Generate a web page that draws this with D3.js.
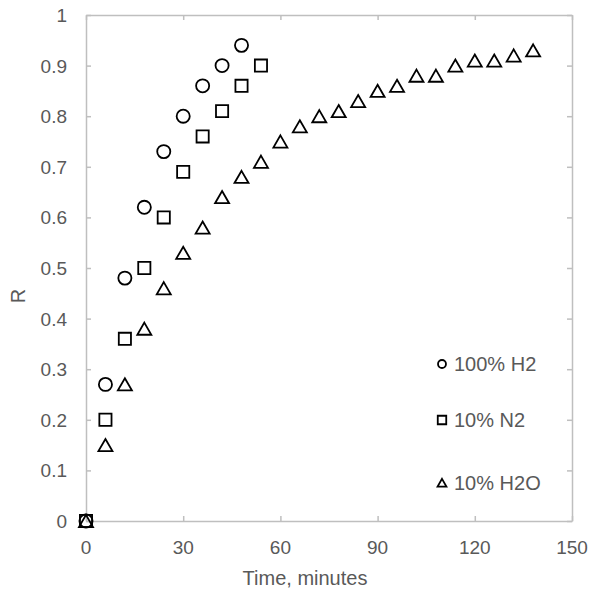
<!DOCTYPE html>
<meta charset="utf-8"/>
<title>R vs time</title>
<script src="https://cdn.jsdelivr.net/npm/d3@7"></script>
<style>
  body { margin: 0; background: #fff; }
  text { font-family: 'Liberation Sans', Arial, sans-serif; fill: #595959; }
</style>
<svg width=593 height=590></svg>
<script>
  // data
  const timeH2 = [0, 6, 12, 18, 24, 30, 36, 42, 48];
  const rH2 = [0, 0.27, 0.48, 0.62, 0.73, 0.80, 0.86, 0.90, 0.94];
  const timeN2 = [0, 6, 12, 18, 24, 30, 36, 42, 48, 54];
  const rN2 = [0, 0.20, 0.36, 0.50, 0.60, 0.69, 0.76, 0.81, 0.86, 0.90];
  const timeH2O = [0, 6, 12, 18, 24, 30, 36, 42, 48, 54, 60, 66, 72, 78, 84, 90, 96, 102, 108, 114, 120, 126, 132, 138];
  const rH2O = [0, 0.15, 0.27, 0.38, 0.46, 0.53, 0.58, 0.64, 0.68, 0.71, 0.75, 0.78, 0.80, 0.81, 0.83, 0.85, 0.86, 0.88, 0.88, 0.90, 0.91, 0.91, 0.92, 0.93];
  const seriesNames = ['100% H2', '10% N2', '10% H2O'];
  const xTicks = [0, 30, 60, 90, 120, 150];
  const yTicks = [0, 0.1, 0.2, 0.3, 0.4, 0.5, 0.6, 0.7, 0.8, 0.9, 1];

  const pLeft = 86, pRight = 572, pTop = 15, pBottom = 521;
  const x = d3.scaleLinear().domain([0, 150]).range([pLeft, pRight]);
  const y = d3.scaleLinear().domain([0, 1]).range([pBottom, pTop]);
  const svg = d3.select('svg');
  const grey = '#bfbfbf';

  // frame with inward ticks on all four sides
  const axes = [
    [d3.axisBottom(x).tickValues(xTicks).tickSizeInner(-5).tickSizeOuter(0).tickFormat(''), 'translate(0,' + pBottom + ')'],
    [d3.axisTop(x).tickValues(xTicks).tickSizeInner(-5).tickSizeOuter(0).tickFormat(''), 'translate(0,' + pTop + ')'],
    [d3.axisLeft(y).tickValues(yTicks).tickSizeInner(-5).tickSizeOuter(0).tickFormat(''), 'translate(' + pLeft + ',0)'],
    [d3.axisRight(y).tickValues(yTicks).tickSizeInner(-5).tickSizeOuter(0).tickFormat(''), 'translate(' + pRight + ',0)']
  ];
  axes.forEach(function (a) {
    const g = svg.append('g').attr('transform', a[1]).call(a[0]);
    g.selectAll('path, line').style('stroke', grey).style('stroke-width', 1.5);
  });

  // tick labels
  svg.append('g').selectAll('text').data(xTicks).enter().append('text')
    .attr('x', d => x(d)).attr('y', pBottom + 33)
    .attr('text-anchor', 'middle').style('font-size', '19px')
    .text(d => d);
  svg.append('g').selectAll('text').data(yTicks).enter().append('text')
    .attr('x', pLeft - 19).attr('y', d => y(d) + 7)
    .attr('text-anchor', 'end').style('font-size', '19px')
    .text(d => d);

  svg.append('text').attr('x', 305).attr('y', 585)
    .attr('text-anchor', 'middle').style('font-size', '20px').text('Time, minutes');
  svg.append('text').attr('transform', 'translate(25,296)rotate(-90)')
    .attr('text-anchor', 'middle').style('font-size', '20px').text('R');

  const shapes = [d3.symbolCircle, d3.symbolSquare, d3.symbolTriangle];
  const sizes = [135, 148, 85];
  const legSizes = [50, 72, 34];
  const sets = [[timeH2, rH2], [timeN2, rN2], [timeH2O, rH2O]];

  sets.forEach(function (s, k) {
    const sym = d3.symbol().type(shapes[k]).size(sizes[k]);
    svg.append('g').selectAll('path').data(s[0]).enter().append('path')
      .attr('d', sym)
      .attr('transform', (d, i) => 'translate(' + x(d) + ',' + (y(s[1][i]) + (k === 2 ? 2 : 0)) + ')')
      .style('fill', 'none').style('stroke', '#000').style('stroke-width', 1.8);
  });

  // legend
  const legY = [364, 420, 483];
  seriesNames.forEach(function (name, k) {
    const sym = d3.symbol().type(shapes[k]).size(legSizes[k]);
    svg.append('path').attr('d', sym)
      .attr('transform', 'translate(442,' + (legY[k] + (k === 2 ? 1 : 0)) + ')')
      .style('fill', 'none').style('stroke', '#000').style('stroke-width', 1.8);
    svg.append('text').attr('x', 454).attr('y', legY[k] + 7)
      .style('font-size', '20px').text(name);
  });
</script>
